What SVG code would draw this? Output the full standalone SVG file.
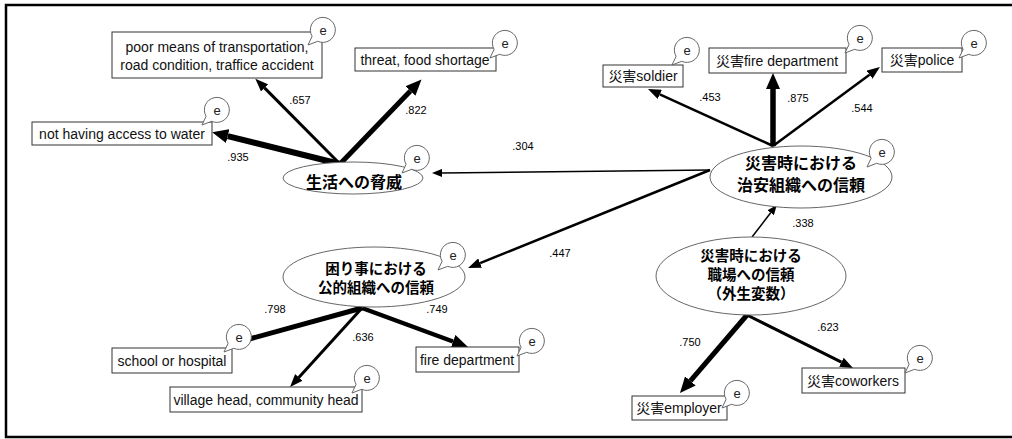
<svg xmlns="http://www.w3.org/2000/svg" xmlns:xlink="http://www.w3.org/1999/xlink" width="1012" height="439" viewBox="0 0 1012 439">
<style>
.frame{fill:none;stroke:#000;stroke-width:2.5}
.box{fill:#fff;stroke:#333;stroke-width:1}
.ell{fill:#fff;stroke:#666;stroke-width:1}
.bub{fill:#fff;stroke:#666;stroke-width:1}
.bt{font-family:"Liberation Sans","Noto Sans CJK JP",sans-serif;font-size:14px;fill:#111;text-anchor:middle}
.et{font-family:"Liberation Sans",sans-serif;font-size:13px;fill:#222;text-anchor:middle}
.jt{font-family:"Noto Sans CJK JP",sans-serif;font-size:14.5px;font-weight:bold;fill:#000;text-anchor:middle}
.lab{font-family:"Liberation Sans",sans-serif;font-size:11px;fill:#000;text-anchor:middle}
.c{stroke:#000;fill:none;stroke-linecap:butt}
</style>
<defs>
<marker id="hS" markerUnits="userSpaceOnUse" viewBox="0 -4 10 8" refX="0" refY="0" markerWidth="10" markerHeight="8" orient="auto"><path d="M0,-4 L10,0 L0,4 Z" fill="#000"/></marker>
<marker id="hM" markerUnits="userSpaceOnUse" viewBox="0 -5 13 10" refX="0" refY="0" markerWidth="13" markerHeight="10" orient="auto"><path d="M0,-5 L13,0 L0,5 Z" fill="#000"/></marker>
<marker id="hL" markerUnits="userSpaceOnUse" viewBox="0 -7 16 14" refX="0" refY="0" markerWidth="16" markerHeight="14" orient="auto"><path d="M0,-7 L16,0 L0,7 Z" fill="#000"/></marker>
<path id="bub" class="bub" d="M-10.9,6.3 L-15,15 L-5.3,11.3 A12.5,12.5 0 1,0 -10.9,6.3 Z"/>
</defs>
<rect class="frame" x="6" y="5" width="1012" height="432"/>

<g id="connectors">
<line class="c" x1="340" y1="164" x2="264.5" y2="87.9" stroke-width="3" marker-end="url(#hM)"/>
<line class="c" x1="340" y1="164" x2="227.7" y2="136.1" stroke-width="6" marker-end="url(#hL)"/>
<line class="c" x1="340" y1="164" x2="410.4" y2="91" stroke-width="5" marker-end="url(#hL)"/>
<line class="c" x1="710" y1="170" x2="442" y2="172.9" stroke-width="1.5" marker-end="url(#hS)"/>
<line class="c" x1="710" y1="170" x2="480.1" y2="263.1" stroke-width="2.5" marker-end="url(#hM)"/>
<line class="c" x1="773" y1="146" x2="659.8" y2="94.4" stroke-width="2.5" marker-end="url(#hM)"/>
<line class="c" x1="773" y1="146" x2="773" y2="89" stroke-width="5.5" marker-end="url(#hL)"/>
<line class="c" x1="773" y1="146" x2="869.5" y2="74.7" stroke-width="2.5" marker-end="url(#hM)"/>
<line class="c" x1="752" y1="237" x2="770.7" y2="212.8" stroke-width="1.5" marker-end="url(#hS)"/>
<line class="c" x1="747" y1="315" x2="690.4" y2="380.9" stroke-width="5" marker-end="url(#hL)"/>
<line class="c" x1="747" y1="315" x2="841.4" y2="362.2" stroke-width="3" marker-end="url(#hM)"/>
<line class="c" x1="362" y1="308" x2="244" y2="340.5" stroke-width="5"/>
<line class="c" x1="362" y1="308" x2="298.8" y2="377.4" stroke-width="3" marker-end="url(#hM)"/>
<line class="c" x1="362" y1="308" x2="453" y2="341.5" stroke-width="4.5" marker-end="url(#hL)"/>
<text class="lab" x="300" y="104">.657</text>
<text class="lab" x="238" y="161">.935</text>
<text class="lab" x="416" y="114">.822</text>
<text class="lab" x="523" y="150">.304</text>
<text class="lab" x="710" y="101">.453</text>
<text class="lab" x="798" y="102">.875</text>
<text class="lab" x="862" y="112">.544</text>
<text class="lab" x="560" y="257">.447</text>
<text class="lab" x="803" y="227">.338</text>
<text class="lab" x="690" y="346">.750</text>
<text class="lab" x="828" y="331">.623</text>
<text class="lab" x="275" y="313">.798</text>
<text class="lab" x="363" y="341">.636</text>
<text class="lab" x="437" y="313">.749</text>
</g>

<g id="n-poor">
<rect class="box" x="112" y="32" width="210" height="46"/>
<text class="bt" x="217" y="52">poor means of transportation,</text>
<text class="bt" x="217" y="70">road condition, traffice accident</text>
<use href="#bub" x="323" y="30"/><text class="et" x="323" y="34.5">e</text>
</g>
<g id="n-water">
<rect class="box" x="32" y="122" width="180" height="23"/>
<text class="bt" x="122" y="138.5">not having access to water</text>
<use href="#bub" x="217" y="110"/><text class="et" x="217" y="114.5">e</text>
</g>
<g id="n-threat">
<rect class="box" x="355" y="48" width="141" height="23"/>
<text class="bt" x="425" y="64.5">threat, food shortage</text>
<use href="#bub" x="505" y="43"/><text class="et" x="505" y="47.5">e</text>
</g>
<g id="n-life">
<ellipse class="ell" cx="353" cy="178" rx="70" ry="16"/>
<text class="jt" x="354" y="188" style="font-size:16px">生活への脅威</text>
<use href="#bub" x="417" y="158"/><text class="et" x="417" y="162.5">e</text>
</g>
<g id="n-soldier">
<rect class="box" x="603" y="65" width="80" height="22"/>
<text class="bt" x="643" y="81">災害soldier</text>
<use href="#bub" x="687" y="50"/><text class="et" x="687" y="54.5">e</text>
</g>
<g id="n-firedept-top">
<rect class="box" x="709" y="48" width="137" height="25"/>
<text class="bt" x="777" y="65.5">災害fire department</text>
<use href="#bub" x="860" y="38"/><text class="et" x="860" y="42.5">e</text>
</g>
<g id="n-police">
<rect class="box" x="882" y="48" width="80" height="24"/>
<text class="bt" x="922" y="65">災害police</text>
<use href="#bub" x="974" y="43"/><text class="et" x="974" y="47.5">e</text>
</g>
<g id="n-security">
<ellipse class="ell" cx="801" cy="177" rx="91" ry="31"/>
<text class="jt" style="font-size:16px"><tspan x="801" y="169">災害時における</tspan><tspan x="801" y="191">治安組織への信頼</tspan></text>
<use href="#bub" x="882" y="152"/><text class="et" x="882" y="156.5">e</text>
</g>
<g id="n-public">
<ellipse class="ell" cx="374" cy="277" rx="91" ry="30"/>
<text class="jt"><tspan x="376" y="274">困り事における</tspan><tspan x="376" y="293">公的組織への信頼</tspan></text>
<use href="#bub" x="453" y="255"/><text class="et" x="453" y="259.5">e</text>
</g>
<g id="n-work">
<ellipse class="ell" cx="751" cy="276" rx="95" ry="39"/>
<text class="jt"><tspan x="751" y="261">災害時における</tspan><tspan x="751" y="280">職場への信頼</tspan><tspan x="751" y="299">（外生変数）</tspan></text>
</g>
<g id="n-school">
<rect class="box" x="112" y="348" width="120" height="25"/>
<text class="bt" x="172" y="365.5">school or hospital</text>
<use href="#bub" x="239" y="337"/><text class="et" x="239" y="341.5">e</text>
</g>
<g id="n-village">
<rect class="box" x="170" y="387" width="192" height="25"/>
<text class="bt" x="266" y="404.5">village head, community head</text>
<use href="#bub" x="367" y="378"/><text class="et" x="367" y="382.5">e</text>
</g>
<g id="n-firedept">
<rect class="box" x="416" y="347" width="103" height="25"/>
<text class="bt" x="467" y="364.5">fire department</text>
<use href="#bub" x="532" y="341"/><text class="et" x="532" y="345.5">e</text>
</g>
<g id="n-employer">
<rect class="box" x="632" y="396" width="95" height="24"/>
<text class="bt" x="679" y="413">災害employer</text>
<use href="#bub" x="737" y="393"/><text class="et" x="737" y="397.5">e</text>
</g>
<g id="n-coworkers">
<rect class="box" x="802" y="368" width="103" height="25"/>
<text class="bt" x="853" y="385.5">災害coworkers</text>
<use href="#bub" x="920" y="358"/><text class="et" x="920" y="362.5">e</text>
</g>
</svg>
